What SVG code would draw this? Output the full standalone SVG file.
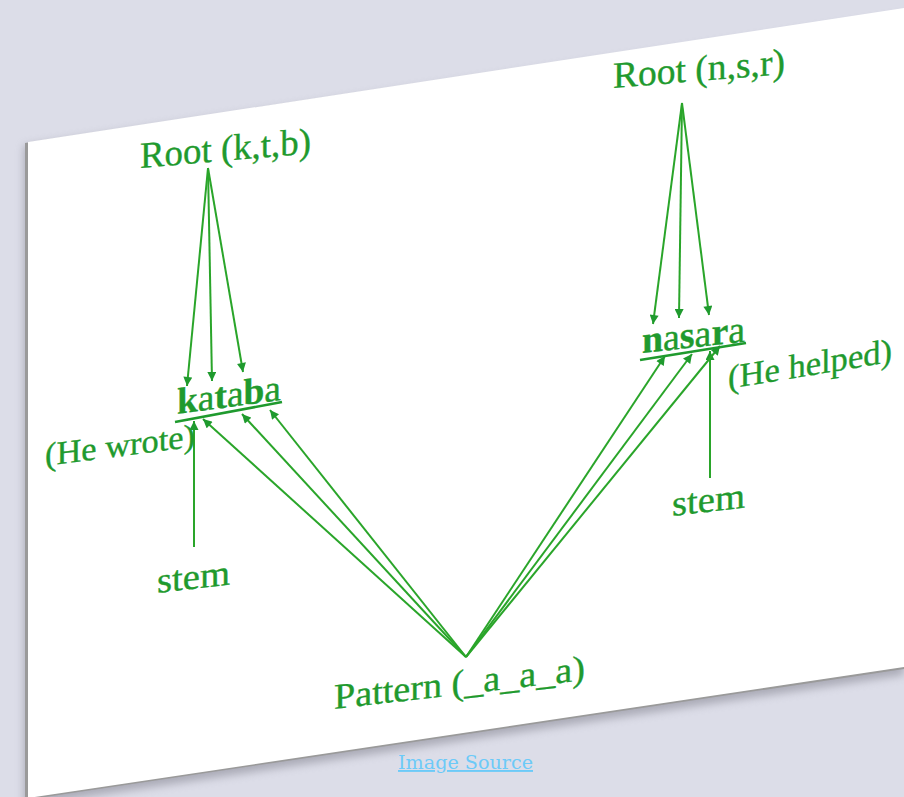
<svg xmlns="http://www.w3.org/2000/svg" width="904" height="797" viewBox="0 0 904 797">
<defs>
<style>
.t{font-family:"Liberation Serif","DejaVu Serif",serif;fill:#1f9a2e;stroke:#1f9a2e;stroke-width:0.35;}
.b{font-weight:bold;}
.n{font-weight:normal;}
.ln{stroke:#2aa52a;stroke-width:2;fill:none;}
.ul{stroke:#1f9a2e;stroke-width:2.6;fill:none;}
.link{font-family:"DejaVu Serif","Liberation Serif",serif;fill:#6ccaf8;font-size:19px;text-decoration:underline;}
</style>
<marker id="ah" viewBox="0 0 10 10" refX="10" refY="5" markerWidth="10" markerHeight="9" markerUnits="userSpaceOnUse" orient="auto">
<path d="M0,0 L10,5 L0,10 z" fill="#1f9a2e"/>
</marker>
<filter id="sh" x="-10%" y="-10%" width="120%" height="120%">
<feGaussianBlur stdDeviation="4"/>
</filter>
</defs>
<rect x="0" y="0" width="904" height="797" fill="#dcdde8"/>
<g id="page">
<polygon points="24,146 904,16 904,675 24,806" fill="#8a8a96" opacity="0.6" filter="url(#sh)"/>
<polygon points="25,143 904,9 904,669 25,800" fill="#9a9a9a"/>
<polygon points="28,142 904,8 904,667 28,798" fill="#ffffff"/>
</g>
<g id="connectors">
<path class="ln" d="M208,168 L187,386" marker-end="url(#ah)"/>
<path class="ln" d="M208,168 L212,381" marker-end="url(#ah)"/>
<path class="ln" d="M208,168 L243,372" marker-end="url(#ah)"/>
<path class="ln" d="M682,103 L653,324" marker-end="url(#ah)"/>
<path class="ln" d="M682,103 L679,318" marker-end="url(#ah)"/>
<path class="ln" d="M682,103 L709,315" marker-end="url(#ah)"/>
<path class="ln" d="M194,547 L194,421" marker-end="url(#ah)"/>
<path class="ln" d="M710,478 L710,351" marker-end="url(#ah)"/>
<path class="ln" d="M466,657 L203,419" marker-end="url(#ah)"/>
<path class="ln" d="M466,657 L242,414" marker-end="url(#ah)"/>
<path class="ln" d="M466,657 L270,410" marker-end="url(#ah)"/>
<path class="ln" d="M466,657 L665,356" marker-end="url(#ah)"/>
<path class="ln" d="M466,657 L692,354" marker-end="url(#ah)"/>
<path class="ln" d="M466,657 L720,346" marker-end="url(#ah)"/>
<path class="ul" d="M175,422 L282,402"/>
<path class="ul" d="M640,360 L746,343"/>
</g>
<g id="root-ktb">
<text class="t" transform="translate(140,168) skewY(-4.9)" font-size="37" textLength="171" lengthAdjust="spacingAndGlyphs">Root (k,t,b)</text>
</g>
<g id="root-nsr">
<text class="t" transform="translate(613,88) skewY(-4.7)" font-size="37" textLength="172" lengthAdjust="spacingAndGlyphs">Root (n,s,r)</text>
</g>
<g id="kataba">
<text class="t" transform="translate(177,414) skewY(-7.6)" font-size="37" textLength="104" lengthAdjust="spacingAndGlyphs"><tspan class="b">k</tspan><tspan class="n">a</tspan><tspan class="b">t</tspan><tspan class="n">a</tspan><tspan class="b">b</tspan><tspan class="n">a</tspan></text>
</g>
<g id="he-wrote">
<text class="t" transform="translate(45,466) skewY(-7.4)" font-size="33" textLength="150" lengthAdjust="spacingAndGlyphs">(He wrote)</text>
</g>
<g id="nasara">
<text class="t" transform="translate(642,353) skewY(-6.3)" font-size="38" textLength="103" lengthAdjust="spacingAndGlyphs"><tspan class="b">n</tspan><tspan class="n">a</tspan><tspan class="b">s</tspan><tspan class="n">a</tspan><tspan class="b">r</tspan><tspan class="n">a</tspan></text>
</g>
<g id="he-helped">
<text class="t" transform="translate(728,389) skewY(-9.4)" font-size="34" textLength="164" lengthAdjust="spacingAndGlyphs">(He helped)</text>
</g>
<g id="stem-left">
<text class="t" transform="translate(157,593) skewY(-6.7)" font-size="36" textLength="73" lengthAdjust="spacingAndGlyphs">stem</text>
</g>
<g id="stem-right">
<text class="t" transform="translate(672,516) skewY(-6.7)" font-size="36" textLength="73" lengthAdjust="spacingAndGlyphs">stem</text>
</g>
<g id="pattern">
<text class="t" transform="translate(334,709) skewY(-6.6)" font-size="36" textLength="251" lengthAdjust="spacingAndGlyphs">Pattern (_a_a_a)</text>
</g>
<g id="image-source">
<text class="link" x="398" y="769" textLength="135" lengthAdjust="spacingAndGlyphs">Image Source</text>
</g>
</svg>
